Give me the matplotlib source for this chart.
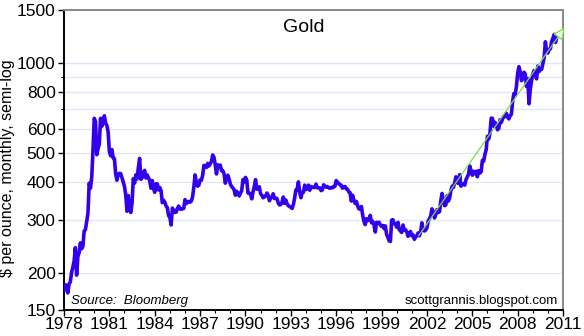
import numpy as np
import matplotlib
matplotlib.use("Agg")
import matplotlib.pyplot as plt
from matplotlib.ticker import FixedLocator, NullFormatter

# Gold, $ per ounce, month-end, Jan 1978 .. Aug 2010
start_year = 1978
prices = [
    175, 182, 181, 171, 183, 186, 200, 208, 218, 242, 196, 226,  # 1978
    233, 251, 240, 245, 275, 278, 296, 315, 397, 382, 415, 512,  # 1979
    653, 637, 494, 518, 535, 653, 614, 631, 666, 629, 619, 589,  # 1980
    506, 490, 514, 482, 479, 426, 406, 425, 428, 427, 414, 400,  # 1981
    387, 362, 320, 361, 325, 317, 342, 411, 397, 423, 410, 448,  # 1982
    480, 409, 414, 430, 438, 413, 423, 414, 405, 382, 405, 382,  # 1983
    370, 395, 395, 377, 384, 375, 342, 348, 343, 333, 329, 309,  # 1984
    306, 288, 328, 322, 317, 318, 327, 333, 326, 325, 326, 327,  # 1985
    350, 339, 344, 345, 343, 346, 357, 384, 423, 401, 388, 391,  # 1986
    407, 406, 421, 455, 451, 448, 462, 453, 460, 469, 493, 484,  # 1987
    458, 426, 457, 450, 456, 437, 437, 427, 397, 412, 422, 410,  # 1988
    394, 387, 383, 377, 362, 373, 368, 360, 367, 375, 408, 401,  # 1989
    415, 407, 368, 368, 364, 352, 372, 387, 408, 379, 384, 386,  # 1990
    366, 362, 355, 357, 360, 368, 362, 347, 354, 357, 366, 353,  # 1991
    354, 353, 341, 336, 337, 343, 357, 340, 349, 339, 334, 332,  # 1992
    330, 327, 337, 354, 377, 378, 401, 371, 355, 370, 370, 391,  # 1993
    378, 381, 391, 376, 387, 385, 384, 385, 394, 383, 383, 383,  # 1994
    375, 377, 392, 389, 385, 387, 383, 382, 384, 383, 387, 387,  # 1995
    405, 400, 396, 392, 391, 382, 385, 387, 380, 379, 371, 369,  # 1996
    346, 362, 349, 340, 345, 334, 326, 325, 332, 311, 296, 289,  # 1997
    302, 298, 301, 310, 293, 296, 288, 273, 294, 292, 294, 288,  # 1998
    285, 287, 280, 286, 268, 262, 255, 254, 299, 300, 291, 290,  # 1999
    283, 294, 278, 275, 272, 288, 277, 278, 273, 264, 270, 274,  # 2000
    265, 267, 258, 263, 265, 271, 265, 273, 293, 279, 275, 277,  # 2001
    282, 297, 302, 309, 326, 318, 304, 312, 324, 317, 319, 347,  # 2002
    367, 348, 334, 336, 361, 346, 354, 375, 388, 384, 398, 417,  # 2003
    399, 396, 424, 388, 393, 395, 391, 408, 416, 426, 453, 436,  # 2004
    422, 435, 427, 435, 417, 437, 429, 433, 473, 470, 495, 513,  # 2005
    569, 557, 582, 654, 653, 614, 633, 624, 598, 604, 646, 632,  # 2006
    650, 665, 662, 679, 659, 650, 666, 673, 743, 790, 783, 834,  # 2007
    923, 971, 934, 872, 885, 930, 918, 834, 885, 730, 815, 870,  # 2008
    919, 942, 916, 884, 976, 935, 955, 950, 996, 1040, 1175, 1088,  # 2009
    1078, 1108, 1115, 1180, 1208, 1244, 1169, 1215,  # 2010
]

# trend drawn through the 2001 low
trend_years = [2001.45, 2011.1]
trend_values = [265, 1310]

ytick_values = [150, 200, 300, 400, 500, 600, 800, 1000, 1500]
ytick_minor = [700, 900]
grid_values = [200, 300, 400, 500, 600, 700, 800, 900, 1000]
xtick_years = list(range(1978, 2012, 3))

months = start_year + np.arange(len(prices)) / 12.0

plt.rcParams['font.family'] = ['Liberation Sans', 'DejaVu Sans']

fig = plt.figure(figsize=(5.84, 3.36), dpi=100)
ax = fig.add_axes([0.1096, 0.0774, 0.8545, 0.8929])

for g in grid_values:
    ax.axhline(g, color='#dde8f6', linewidth=1.0, zorder=0)

ax.plot(months, prices, color='#3300ee', linewidth=2.6, solid_joinstyle='round', zorder=3)
ax.annotate('', xy=(trend_years[1], trend_values[1]), xytext=(trend_years[0], trend_values[0]),
            arrowprops=dict(arrowstyle='-|>,head_length=0.7,head_width=0.35',
                            edgecolor='#77dd44', facecolor='#f0ffe8', linewidth=0.9,
                            shrinkA=0, shrinkB=0),
            zorder=4, annotation_clip=False)

ax.set_yscale('log')
ax.set_ylim(150, 1500)
ax.set_xlim(1978, 2011)

ax.yaxis.set_major_locator(FixedLocator(ytick_values))
ax.yaxis.set_minor_locator(FixedLocator(ytick_minor))
ax.yaxis.set_minor_formatter(NullFormatter())
ax.set_yticklabels([str(v) for v in ytick_values], fontsize=12.5)
ax.set_xticks(xtick_years)
ax.set_xticks(range(1978, 2012), minor=True)
ax.set_xticklabels([str(y) for y in xtick_years], fontsize=12.5)

ax.tick_params(axis='both', which='major', direction='out', length=4, width=1, pad=2)
ax.tick_params(axis='both', which='minor', direction='out', length=2.5, width=0.8)
ax.tick_params(axis='x', which='major', pad=1)

for side in ['left', 'bottom']:
    ax.spines[side].set_color('black')
    ax.spines[side].set_linewidth(1.4)
for side in ['top', 'right']:
    ax.spines[side].set_color('#888888')
    ax.spines[side].set_linewidth(1.4)

ax.set_ylabel('$ per ounce, monthly, semi-log', fontsize=11.5)
ax.yaxis.set_label_coords(-0.098, 0.473)
ax.text(0.48, 0.94, 'Gold', transform=ax.transAxes, ha='center', va='center', fontsize=14)
ax.text(0.014, 0.03, 'Source:  Bloomberg', transform=ax.transAxes, ha='left', va='center',
        fontsize=9.5, style='italic')
ax.text(0.99, 0.03, 'scottgrannis.blogspot.com', transform=ax.transAxes, ha='right',
        va='center', fontsize=9.5)

fig.savefig('out.png', dpi=100)
